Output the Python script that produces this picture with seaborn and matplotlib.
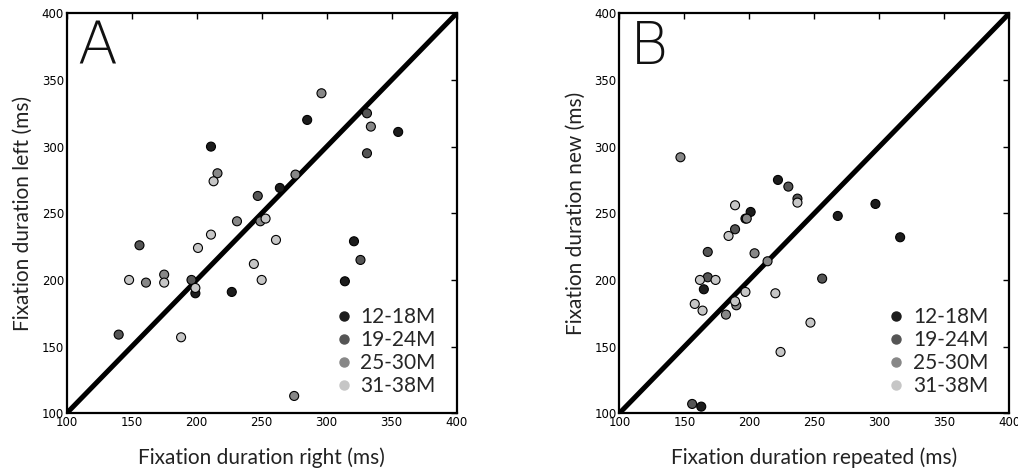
import matplotlib
matplotlib.use('Agg')
import matplotlib.pyplot as plt
from matplotlib.lines import Line2D
import seaborn as sns
import pandas as pd

groups = ['12-18M', '19-24M', '25-30M', '31-38M']
colors = ['#1c1c1c', '#555555', '#878787', '#c6c6c6']

# Panel A: right vs left
a_right = {
    '12-18M': [211, 285, 355, 264, 199, 227, 321, 314],
    '19-24M': [331, 331, 247, 156, 196, 140, 326],
    '25-30M': [216, 296, 334, 276, 231, 249, 161, 175, 275],
    '31-38M': [213, 253, 148, 175, 199, 201, 211, 261, 244, 250, 188],
}
a_left = {
    '12-18M': [300, 320, 311, 269, 190, 191, 229, 199],
    '19-24M': [325, 295, 263, 226, 200, 159, 215],
    '25-30M': [280, 340, 315, 279, 244, 244, 198, 204, 113],
    '31-38M': [274, 246, 200, 198, 194, 224, 234, 230, 212, 200, 157],
}

# Panel B: repeated vs new
b_repeated = {
    '12-18M': [222, 268, 201, 197, 165, 163, 297, 316],
    '19-24M': [230, 237, 189, 168, 168, 256, 156],
    '25-30M': [147, 198, 204, 214, 182, 190],
    '31-38M': [237, 189, 184, 162, 174, 158, 164, 189, 197, 220, 247, 224],
}
b_new = {
    '12-18M': [275, 248, 251, 246, 193, 105, 257, 232],
    '19-24M': [270, 261, 238, 221, 202, 201, 107],
    '25-30M': [292, 246, 220, 214, 174, 181],
    '31-38M': [258, 256, 233, 200, 200, 182, 177, 184, 191, 190, 168, 146],
}


def to_frame(xs, ys):
    rows = []
    for g in groups:
        for x, y in zip(xs[g], ys[g]):
            rows.append({'x': x, 'y': y, 'group': g})
    return pd.DataFrame(rows)


sns.set_style('white')
plt.rcParams['font.family'] = ['DejaVu Sans']

fig = plt.figure(figsize=(10.18, 4.72), dpi=100)
ax_a = fig.add_axes([0.0655, 0.1244, 0.3831, 0.8475])
ax_b = fig.add_axes([0.6084, 0.1244, 0.3831, 0.8475])

panels = [
    (ax_a, to_frame(a_right, a_left), 'A',
     'Fixation duration right (ms)', 'Fixation duration left (ms)'),
    (ax_b, to_frame(b_repeated, b_new), 'B',
     'Fixation duration repeated (ms)', 'Fixation duration new (ms)'),
]

label_font = ['Lato', 'DejaVu Sans']

for ax, df, letter, xlab, ylab in panels:
    ax.plot([100, 400], [100, 400], color='black', lw=3.6, zorder=1)
    sns.scatterplot(data=df, x='x', y='y', hue='group', hue_order=groups,
                    palette=dict(zip(groups, colors)), s=42,
                    edgecolor='black', linewidth=0.8, legend=False,
                    ax=ax, zorder=2)
    ax.set_xlim(100, 400)
    ax.set_ylim(100, 400)
    ax.set_xticks(range(100, 401, 50))
    ax.set_yticks(range(100, 401, 50))
    ax.tick_params(direction='in', length=4, width=1, top=True, right=True,
                   labelsize=8.5, pad=2, colors='black')
    for sp in ax.spines.values():
        sp.set_linewidth(1.6)
        sp.set_color('black')
    ax.set_xlabel(xlab, fontsize=15, family=label_font, color='#222222',
                  labelpad=13)
    ax.set_ylabel(ylab, fontsize=15, family=label_font, color='#222222',
                  labelpad=6)
    ax.text(0.028, 0.985, letter, transform=ax.transAxes, fontsize=42,
            fontweight='light', va='top', ha='left', color='#111111')

    handles = [Line2D([], [], marker='o', linestyle='none', markersize=6.5,
                      markerfacecolor=c, markeredgecolor=c)
               for c in colors]
    ax.legend(handles, groups, loc='lower right', frameon=False,
              prop={'family': label_font, 'size': 15}, handlelength=0.6,
              handletextpad=0.5, labelspacing=0.15,
              bbox_to_anchor=(1.0, -0.01), borderaxespad=0.6)

fig.savefig('out.png', dpi=100)
